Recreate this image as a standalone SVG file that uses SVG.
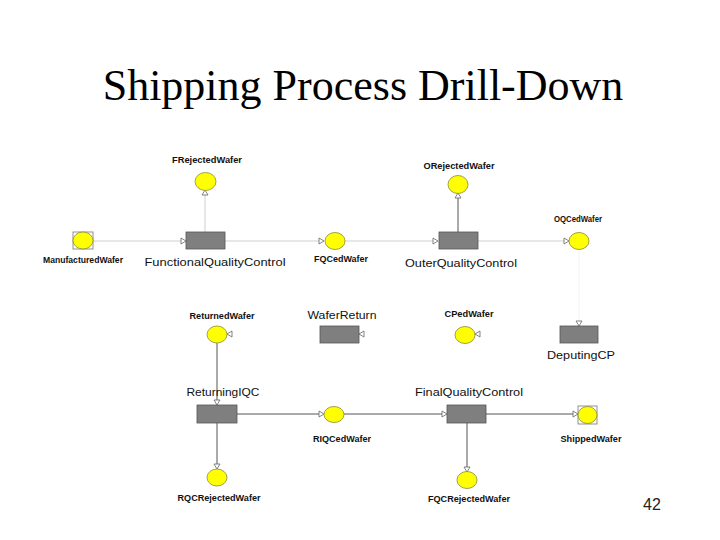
<svg xmlns="http://www.w3.org/2000/svg" xmlns:xlink="http://www.w3.org/1999/xlink" width="720" height="540" viewBox="0 0 720 540">
<style>
.title{font-family:"Liberation Serif","Times New Roman",serif;font-size:44px;fill:#000}
.pl{font-family:"Liberation Sans",Arial,sans-serif;font-size:8.5px;font-weight:bold;fill:#111}
.tl{font-family:"Liberation Sans",Arial,sans-serif;font-size:11px;fill:#111}
.pg{font-family:"Liberation Sans",Arial,sans-serif;font-size:16px;fill:#222}
.place{fill:#ffff00;stroke:#8a8a3a;stroke-width:0.8}
.frame{fill:#fff;stroke:#777;stroke-width:0.8}
.trans{fill:#7f7f7f;stroke:#555;stroke-width:0.8}
.lt{stroke:#cfcfcf;stroke-width:1;fill:none}
.dk{stroke:#555;stroke-width:1;fill:none}
.fa{stroke:#f3f3f3;stroke-width:1;fill:none}
.ah{fill:#fff;stroke:#666;stroke-width:0.8}
</style>
<defs>
<polygon id="ah" class="ah" points="0,0 -5,-3 -5,3"/>
</defs>
<rect x="0" y="0" width="720" height="540" fill="#fff"/>
<text class="title" x="363" y="100" text-anchor="middle">Shipping Process Drill-Down</text>

<g id="connectors">
<line class="lt" x1="93" y1="241" x2="181" y2="241"/>
<line class="lt" x1="225" y1="241" x2="319" y2="241"/>
<line class="lt" x1="345" y1="241" x2="433" y2="241"/>
<line class="lt" x1="478" y1="241" x2="564" y2="241"/>
<line class="lt" x1="205" y1="232" x2="205" y2="195"/>
<line class="dk" x1="458" y1="232" x2="458" y2="198"/>
<line class="fa" x1="579" y1="250" x2="579" y2="321"/>
<line class="dk" x1="217" y1="343" x2="217" y2="400"/>
<line class="dk" x1="237" y1="414" x2="319" y2="414"/>
<line class="dk" x1="344" y1="414" x2="442" y2="414"/>
<line class="dk" x1="486" y1="414" x2="573" y2="414"/>
<line class="dk" x1="217" y1="423" x2="217" y2="464"/>
<line class="dk" x1="467" y1="423" x2="467" y2="467"/>
<use xlink:href="#ah" transform="translate(186,241)"/>
<use xlink:href="#ah" transform="translate(324,241)"/>
<use xlink:href="#ah" transform="translate(438,241)"/>
<use xlink:href="#ah" transform="translate(569,241)"/>
<use xlink:href="#ah" transform="translate(205,190) rotate(-90)"/>
<use xlink:href="#ah" transform="translate(458,193) rotate(-90)"/>
<use xlink:href="#ah" transform="translate(579,326) rotate(90)"/>
<use xlink:href="#ah" transform="translate(227,334) rotate(180)"/>
<use xlink:href="#ah" transform="translate(359,334) rotate(180)"/>
<use xlink:href="#ah" transform="translate(475,334) rotate(180)"/>
<use xlink:href="#ah" transform="translate(217,405) rotate(90)"/>
<use xlink:href="#ah" transform="translate(324,414)"/>
<use xlink:href="#ah" transform="translate(447,414)"/>
<use xlink:href="#ah" transform="translate(578,414)"/>
<use xlink:href="#ah" transform="translate(217,469) rotate(90)"/>
<use xlink:href="#ah" transform="translate(467,472) rotate(90)"/>
</g>

<g id="ManufacturedWafer">
<rect class="frame" x="73" y="232" width="20" height="17"/>
<ellipse class="place" cx="83" cy="240.5" rx="10" ry="8.5"/>
<text class="pl" x="83" y="263" text-anchor="middle" textLength="80" lengthAdjust="spacingAndGlyphs">ManufacturedWafer</text>
</g>
<g id="FunctionalQualityControl">
<rect class="trans" x="186" y="232" width="39" height="17"/>
<text class="tl" x="215" y="266" text-anchor="middle" textLength="141" lengthAdjust="spacingAndGlyphs">FunctionalQualityControl</text>
</g>
<g id="FRejectedWafer">
<ellipse class="place" cx="205.5" cy="181.5" rx="10.5" ry="9"/>
<text class="pl" x="207" y="163" text-anchor="middle" textLength="70" lengthAdjust="spacingAndGlyphs">FRejectedWafer</text>
</g>
<g id="FQCedWafer">
<ellipse class="place" cx="335" cy="241" rx="10" ry="8.5"/>
<text class="pl" x="341" y="262" text-anchor="middle" textLength="54" lengthAdjust="spacingAndGlyphs">FQCedWafer</text>
</g>
<g id="OuterQualityControl">
<rect class="trans" x="439" y="232" width="39" height="17"/>
<text class="tl" x="461" y="267" text-anchor="middle" textLength="112" lengthAdjust="spacingAndGlyphs">OuterQualityControl</text>
</g>
<g id="ORejectedWafer">
<ellipse class="place" cx="458" cy="184.5" rx="10" ry="9"/>
<text class="pl" x="459" y="169" text-anchor="middle" textLength="71" lengthAdjust="spacingAndGlyphs">ORejectedWafer</text>
</g>
<g id="OQCedWafer">
<ellipse class="place" cx="579" cy="241" rx="10" ry="8.5"/>
<text class="pl" x="578" y="222" text-anchor="middle" textLength="48" lengthAdjust="spacingAndGlyphs">OQCedWafer</text>
</g>
<g id="DeputingCP">
<rect class="trans" x="560" y="326" width="38" height="17"/>
<text class="tl" x="581" y="359" text-anchor="middle" textLength="68" lengthAdjust="spacingAndGlyphs">DeputingCP</text>
</g>
<g id="ReturnedWafer">
<ellipse class="place" cx="217" cy="334.5" rx="10" ry="8.5"/>
<text class="pl" x="222" y="319" text-anchor="middle" textLength="65" lengthAdjust="spacingAndGlyphs">ReturnedWafer</text>
</g>
<g id="WaferReturn">
<rect class="trans" x="320" y="326" width="39" height="17"/>
<text class="tl" x="342" y="319" text-anchor="middle" textLength="69" lengthAdjust="spacingAndGlyphs">WaferReturn</text>
</g>
<g id="CPedWafer">
<ellipse class="place" cx="465" cy="335" rx="10" ry="8.5"/>
<text class="pl" x="469" y="317" text-anchor="middle" textLength="49" lengthAdjust="spacingAndGlyphs">CPedWafer</text>
</g>
<g id="ReturningIQC">
<rect class="trans" x="197" y="405" width="40" height="18"/>
<text class="tl" x="223" y="396" text-anchor="middle" textLength="73" lengthAdjust="spacingAndGlyphs">ReturningIQC</text>
</g>
<g id="RIQCedWafer">
<ellipse class="place" cx="334" cy="414.5" rx="10" ry="8"/>
<text class="pl" x="342" y="442" text-anchor="middle" textLength="58" lengthAdjust="spacingAndGlyphs">RIQCedWafer</text>
</g>
<g id="FinalQualityControl">
<rect class="trans" x="447" y="405" width="39" height="18"/>
<text class="tl" x="469" y="396" text-anchor="middle" textLength="108" lengthAdjust="spacingAndGlyphs">FinalQualityControl</text>
</g>
<g id="ShippedWafer">
<rect class="frame" x="578" y="406" width="19" height="18"/>
<ellipse class="place" cx="587.5" cy="415" rx="9.5" ry="8.5"/>
<text class="pl" x="591" y="442" text-anchor="middle" textLength="61" lengthAdjust="spacingAndGlyphs">ShippedWafer</text>
</g>
<g id="RQCRejectedWafer">
<ellipse class="place" cx="217" cy="477.5" rx="10" ry="8.5"/>
<text class="pl" x="219" y="501" text-anchor="middle" textLength="83" lengthAdjust="spacingAndGlyphs">RQCRejectedWafer</text>
</g>
<g id="FQCRejectedWafer">
<ellipse class="place" cx="467" cy="480" rx="10" ry="8.5"/>
<text class="pl" x="469" y="502" text-anchor="middle" textLength="82" lengthAdjust="spacingAndGlyphs">FQCRejectedWafer</text>
</g>

<text class="pg" x="652" y="510" text-anchor="middle">42</text>
</svg>
